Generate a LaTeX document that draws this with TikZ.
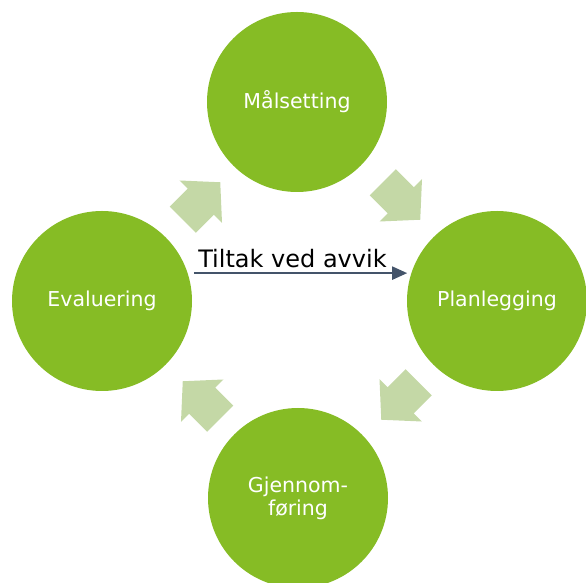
\documentclass[tikz,border=0pt]{standalone}
\usepackage{fontspec}
\setmainfont{DejaVu Sans}
\definecolor{circgreen}{RGB}{134,188,37}
\definecolor{arrowfill}{RGB}{196,216,166}
\definecolor{linkblue}{RGB}{68,84,106}
\usetikzlibrary{arrows.meta}
\begin{document}
\begin{tikzpicture}[x=1pt,y=1pt,
  stage/.style={circle,fill=circgreen,minimum size=180pt,inner sep=0pt,text=white,align=center,font=\fontsize{20.5}{23}\selectfont},
  blockarr/.pic={\fill[arrowfill] (-26.5,18.5) -- (-1,18.5) -- (-1,30) -- (26.5,0) -- (-1,-30) -- (-1,-18.5) -- (-26.5,-18.5) -- cycle;}]
\useasboundingbox (0,0) rectangle (586,583);
\clip (0,0) rectangle (586,583);
\node[stage] (mal) at (297,481) {Målsetting};
\node[stage] (plan) at (497,282) {Planlegging};
\node[stage] (gjen) at (298,85) {Gjennom-\\føring};
\node[stage] (eval) at (102,282) {Evaluering};
\pic[rotate=45] at (201.5,382) {blockarr};
\pic[rotate=-45] at (401.5,382) {blockarr};
\pic[rotate=-135] at (400,182) {blockarr};
\pic[rotate=135] at (201.5,183) {blockarr};
\draw[linkblue,line width=2pt,-{Triangle[length=15pt,width=13pt]},shorten <=6pt,shorten >=4pt] (eval.18) -- node[above=1pt,xshift=-7pt,text=black,font=\fontsize{24}{28}\selectfont] (lbl) {Tiltak ved avvik} (plan.162);
\end{tikzpicture}
\end{document}
